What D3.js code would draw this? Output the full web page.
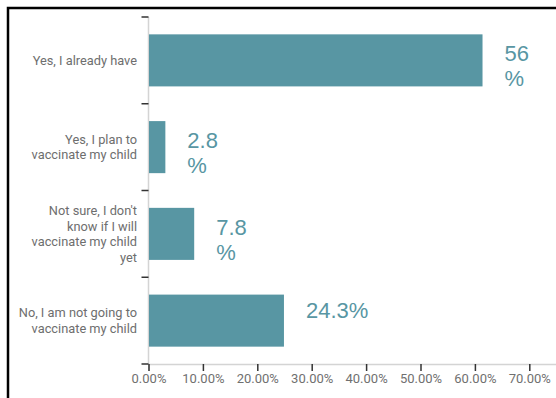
<!DOCTYPE html>
<html>
<head>
<meta charset="utf-8">
<script src="https://cdn.jsdelivr.net/npm/d3@7"></script>
<style>
  body { margin: 0; background: #fff; }
  svg { display: block; }
</style>
</head>
<body>
<div class="chart"></div>
<script>
const categories = [
    ['Yes, I already have'],
    ['Yes, I plan to', 'vaccinate my child'],
    ['Not sure, I don\'t', 'know if I will', 'vaccinate my child', 'yet'],
    ['No, I am not going to', 'vaccinate my child']
];
const values = [0.614, 0.031, 0.084, 0.249];
const valueLabels = [['56', '%'], ['2.8', '%'], ['7.8', '%'], ['24.3%']];
const xTicks = [0, 0.1, 0.2, 0.3, 0.4, 0.5, 0.6, 0.7];

const width = 556, height = 398;
const barColor = '#5896a3';

const svg = d3.select('.chart')
    .append('svg')
        .attr('width', width)
        .attr('height', height);

// frame
svg.append('path')
    .attr('d', `M8,${height} V8 H${width}`)
    .attr('fill', 'none')
    .attr('stroke', '#000')
    .attr('stroke-width', 2.5);

const ids = categories.map((c, i) => i);

const x = d3.scaleLinear()
    .domain([0, 0.75])
    .range([148.5, 556.5]);

const y = d3.scaleBand()
    .domain(ids)
    .range([17, 364])
    .paddingInner(0.4)
    .paddingOuter(0.2);

// x axis
const xAxis = svg.append('g')
    .attr('transform', `translate(0, ${y.range()[1]})`)
    .call(d3.axisBottom(x)
        .tickValues(xTicks)
        .tickSize(7)
        .tickPadding(3)
        .tickFormat(d3.format('.2%')));
xAxis.select('.domain').attr('stroke', '#d4d4d4').attr('stroke-width', 1.5);
xAxis.selectAll('.tick line').attr('stroke', '#333').attr('stroke-width', 1.5);
xAxis.selectAll('.tick text')
    .attr('fill', '#707070')
    .style('font-family', 'Roboto, sans-serif')
    .style('font-size', '13px');

// y axis line and band boundary ticks
svg.append('line')
    .attr('x1', x(0)).attr('x2', x(0))
    .attr('y1', y.range()[0]).attr('y2', y.range()[1])
    .attr('stroke', '#d4d4d4')
    .attr('stroke-width', 1.5);

svg.selectAll('.ytick')
    .data(d3.range(ids.length + 1))
    .enter()
    .append('line')
        .attr('class', 'ytick')
        .attr('x1', x(0) - 7).attr('x2', x(0))
        .attr('y1', i => y.range()[0] + i * y.step())
        .attr('y2', i => y.range()[0] + i * y.step())
        .attr('stroke', '#333')
        .attr('stroke-width', 1.5);

// bars
svg.selectAll('.bar')
    .data(ids)
    .enter()
    .append('rect')
        .attr('class', 'bar')
        .attr('x', x(0) + 0.5)
        .attr('y', i => y(i))
        .attr('width', i => x(values[i]) - x(0) - 0.5)
        .attr('height', y.bandwidth())
        .attr('fill', barColor);

// category labels
const catLabel = svg.selectAll('.cat')
    .data(ids)
    .enter()
    .append('text')
        .attr('class', 'cat')
        .attr('text-anchor', 'end')
        .attr('fill', '#6e6e6e')
        .style('font-family', 'Roboto, sans-serif')
        .style('font-size', '12.8px');

catLabel.selectAll('tspan')
    .data(i => categories[i].map((t, k) => ({ t, k, n: categories[i].length, i })))
    .enter()
    .append('tspan')
        .attr('x', 137)
        .attr('y', d => y(d.i) + y.bandwidth() / 2 + (d.k - (d.n - 1) / 2) * 15.5 + 4.5)
        .text(d => d.t);

// value labels
const valLabel = svg.selectAll('.val')
    .data(ids)
    .enter()
    .append('text')
        .attr('class', 'val')
        .attr('fill', '#5896a3')
        .style('font-family', '"Liberation Sans", Arial, sans-serif')
        .style('font-size', '22px');

valLabel.selectAll('tspan')
    .data(i => valueLabels[i].map((t, k) => ({ t, k, n: valueLabels[i].length, i })))
    .enter()
    .append('tspan')
        .attr('x', d => x(values[d.i]) + 22)
        .attr('y', d => {
            const c = y(d.i) + y.bandwidth() / 2;
            return d.n === 1 ? c - 2.5 : c + 1 + d.k * 25;
        })
        .text(d => d.t);
</script>
</body>
</html>
